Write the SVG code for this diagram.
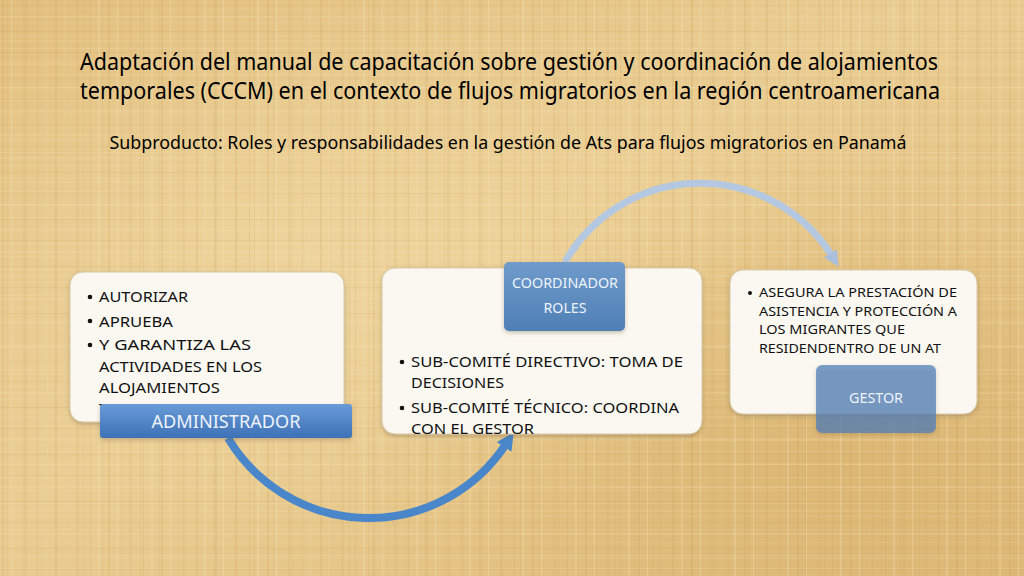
<svg xmlns="http://www.w3.org/2000/svg" width="1024" height="576" viewBox="0 0 1024 576">
<defs>
<style>
.t{font-family:"Noto Sans","Open Sans","Liberation Sans",sans-serif;fill:#000;}
.b{font-family:"Noto Sans","Open Sans","Liberation Sans",sans-serif;fill:#111;font-size:15px;}
.s{font-family:"Noto Sans","Open Sans","Liberation Sans",sans-serif;fill:#111;font-size:13px;}
.lbl{font-family:"Noto Sans","Open Sans","Liberation Sans",sans-serif;fill:#EEF3FA;text-anchor:middle;}
.box{fill:#FBF8F1;stroke:#D8C9A8;stroke-width:1;filter:url(#sh);}
</style>
<linearGradient id="bg" x1="0" y1="0" x2="1" y2="1">
<stop offset="0" stop-color="#E2BF7E"/>
<stop offset="0.45" stop-color="#EACD92"/>
<stop offset="1" stop-color="#DFBB7A"/>
</linearGradient>
<radialGradient id="blot1" cx="0.3" cy="0.45" r="0.5">
<stop offset="0" stop-color="#F2DCA8" stop-opacity="0.55"/>
<stop offset="1" stop-color="#F2DCA8" stop-opacity="0"/>
</radialGradient>
<radialGradient id="blot2" cx="0.8" cy="0.8" r="0.45">
<stop offset="0" stop-color="#D4AA62" stop-opacity="0.45"/>
<stop offset="1" stop-color="#D4AA62" stop-opacity="0"/>
</radialGradient>
<pattern id="texA" width="53" height="47" patternUnits="userSpaceOnUse">
<rect x="2" y="0" width="2" height="47" fill="#C49C55" opacity="0.18"/>
<rect x="11" y="0" width="1" height="47" fill="#F6E4BC" opacity="0.35"/>
<rect x="23" y="0" width="3" height="47" fill="#CDA662" opacity="0.14"/>
<rect x="37" y="0" width="1" height="47" fill="#B98F48" opacity="0.16"/>
<rect x="45" y="0" width="2" height="47" fill="#F4DFB2" opacity="0.3"/>
<rect x="0" y="5" width="53" height="1" fill="#C49C55" opacity="0.14"/>
<rect x="0" y="16" width="53" height="2" fill="#F3DDAE" opacity="0.25"/>
<rect x="0" y="31" width="53" height="1" fill="#BE9550" opacity="0.15"/>
<rect x="0" y="40" width="53" height="2" fill="#F1DAA8" opacity="0.2"/>
</pattern>
<pattern id="texB" width="19" height="13" patternUnits="userSpaceOnUse">
<rect x="7" y="0" width="1" height="13" fill="#B8904A" opacity="0.1"/>
<rect x="0" y="9" width="19" height="1" fill="#FAEACB" opacity="0.15"/>
</pattern>
<linearGradient id="blueA" x1="0" y1="0" x2="0" y2="1">
<stop offset="0" stop-color="#6A9BD8"/>
<stop offset="1" stop-color="#3D71B6"/>
</linearGradient>
<linearGradient id="blueB" x1="0" y1="0" x2="0" y2="1">
<stop offset="0" stop-color="#6F9BCB"/>
<stop offset="1" stop-color="#4F7FB5"/>
</linearGradient>
<filter id="sh" x="-10%" y="-10%" width="120%" height="130%">
<feDropShadow dx="0" dy="2" stdDeviation="2" flood-color="#6b5a3a" flood-opacity="0.35"/>
</filter>
<marker id="ahTop" viewBox="0 0 10 10" refX="2" refY="5" markerWidth="2.2" markerHeight="2.2" orient="auto" markerUnits="strokeWidth">
<path d="M0 0 L10 5 L0 10 Z" fill="#A9BFDB"/>
</marker>
<marker id="ahBot" viewBox="0 0 10 10" refX="2" refY="5" markerWidth="2.2" markerHeight="2.2" orient="auto" markerUnits="strokeWidth">
<path d="M0 0 L10 5 L0 10 Z" fill="#4A86CA"/>
</marker>
</defs>
<rect width="1024" height="576" fill="url(#bg)"/>
<rect width="1024" height="576" fill="url(#blot1)"/>
<rect width="1024" height="576" fill="url(#blot2)"/>
<rect width="1024" height="576" fill="url(#texA)"/>
<rect width="1024" height="576" fill="url(#texB)"/>

<g id="title">
<text class="t" x="509" y="70" font-size="23" text-anchor="middle" textLength="858" lengthAdjust="spacingAndGlyphs">Adaptación del manual de capacitación sobre gestión y coordinación de alojamientos</text>
<text class="t" x="510" y="99" font-size="23" text-anchor="middle" textLength="860" lengthAdjust="spacingAndGlyphs">temporales (CCCM) en el contexto de flujos migratorios en la región centroamericana</text>
<text class="t" x="508" y="149" font-size="18" text-anchor="middle" textLength="797" lengthAdjust="spacingAndGlyphs">Subproducto: Roles y responsabilidades en la gestión de Ats para flujos migratorios en Panamá</text>
</g>

<g id="connectors">
<path d="M565 262 A155.5 155.5 0 0 1 832 256" fill="none" stroke="#B4C8E2" stroke-width="7" marker-end="url(#ahTop)"/>
<path d="M228 438 A164 164 0 0 0 506 444" fill="none" stroke="#4A86CA" stroke-width="8" marker-end="url(#ahBot)"/>
</g>

<g id="administrador">
<rect class="box" x="70" y="272" width="274" height="150" rx="13"/>
<circle cx="90" cy="297" r="2.3" fill="#111"/>
<text class="b" x="99" y="302" textLength="89" lengthAdjust="spacingAndGlyphs">AUTORIZAR</text>
<circle cx="90" cy="321" r="2.3" fill="#111"/>
<text class="b" x="99" y="327" textLength="74" lengthAdjust="spacingAndGlyphs">APRUEBA</text>
<circle cx="90" cy="345" r="2.3" fill="#111"/>
<text class="b" x="99" y="350" textLength="152" lengthAdjust="spacingAndGlyphs">Y GARANTIZA LAS</text>
<text class="b" x="99" y="372" textLength="163" lengthAdjust="spacingAndGlyphs">ACTIVIDADES EN LOS</text>
<text class="b" x="99" y="393" textLength="121" lengthAdjust="spacingAndGlyphs">ALOJAMIENTOS</text>
<text class="b" x="99" y="413.5" textLength="104" lengthAdjust="spacingAndGlyphs">TEMPORALES</text>
<rect x="100" y="404" width="252" height="34" rx="3" fill="url(#blueA)" filter="url(#sh)"/>
<text class="lbl" x="226" y="428" font-size="18" textLength="149" lengthAdjust="spacingAndGlyphs">ADMINISTRADOR</text>
</g>

<g id="coordinador">
<rect class="box" x="382" y="268" width="320" height="166" rx="13"/>
<rect x="504" y="262" width="121" height="69" rx="5" fill="url(#blueB)" filter="url(#sh)"/>
<text class="lbl" x="565" y="288" font-size="13.5" textLength="106" lengthAdjust="spacingAndGlyphs">COORDINADOR</text>
<text class="lbl" x="565" y="313" font-size="13.5" textLength="43" lengthAdjust="spacingAndGlyphs">ROLES</text>
<circle cx="402" cy="362" r="2.3" fill="#111"/>
<text class="b" x="411" y="367" textLength="272" lengthAdjust="spacingAndGlyphs">SUB-COMITÉ DIRECTIVO: TOMA DE</text>
<text class="b" x="411" y="388" textLength="93" lengthAdjust="spacingAndGlyphs">DECISIONES</text>
<circle cx="402" cy="408" r="2.3" fill="#111"/>
<text class="b" x="411" y="413" textLength="268" lengthAdjust="spacingAndGlyphs">SUB-COMITÉ TÉCNICO: COORDINA</text>
<text class="b" x="411" y="434" textLength="123" lengthAdjust="spacingAndGlyphs">CON EL GESTOR</text>
</g>

<g id="gestor">
<rect class="box" x="730" y="270" width="247" height="144" rx="13"/>
<circle cx="750" cy="293" r="2" fill="#111"/>
<text class="s" x="759" y="297" textLength="198" lengthAdjust="spacingAndGlyphs">ASEGURA LA PRESTACIÓN DE</text>
<text class="s" x="759" y="316" textLength="198" lengthAdjust="spacingAndGlyphs">ASISTENCIA Y PROTECCIÓN A</text>
<text class="s" x="759" y="334" textLength="146" lengthAdjust="spacingAndGlyphs">LOS MIGRANTES QUE</text>
<text class="s" x="759" y="353" textLength="182" lengthAdjust="spacingAndGlyphs">RESIDENDENTRO DE UN AT</text>
<rect x="816" y="365" width="120" height="68" rx="6" fill="#4F80B8" fill-opacity="0.72" filter="url(#sh)"/>
<text class="lbl" x="876" y="403" font-size="13.5" textLength="54" lengthAdjust="spacingAndGlyphs">GESTOR</text>
</g>
</svg>
